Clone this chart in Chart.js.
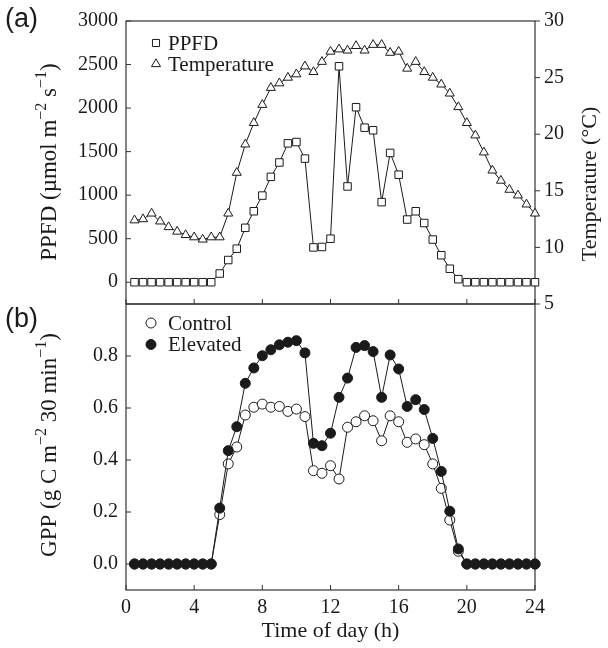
<!DOCTYPE html>
<html>
<head>
<meta charset="utf-8">
<script src="https://cdn.jsdelivr.net/npm/chart.js@4.4.1/dist/chart.umd.min.js"></script>
<style>
  html, body { margin: 0; padding: 0; background: #fff; }
  #wrap { position: relative; width: 608px; height: 648px; }
  #wrap canvas { position: absolute; left: 0; top: 0; }
</style>
</head>
<body>
<div id="wrap">
  <canvas id="chartA" width="608" height="648" style="width:608px;height:648px"></canvas>
  <canvas id="chartB" width="608" height="648" style="width:608px;height:648px"></canvas>
</div>
<script>
// half-hourly time stamps (h)
const hours = [0.5, 1, 1.5, 2, 2.5, 3, 3.5, 4, 4.5, 5, 5.5, 6, 6.5, 7, 7.5, 8, 8.5, 9, 9.5, 10, 10.5, 11, 11.5, 12,
  12.5, 13, 13.5, 14, 14.5, 15, 15.5, 16, 16.5, 17, 17.5, 18, 18.5, 19, 19.5, 20, 20.5, 21, 21.5, 22, 22.5, 23, 23.5, 24]

// panel (a)
const ppfd = [0, 0, 0, 0, 0, 0, 0, 0, 0, 0, 100, 255, 385, 625, 815, 995, 1210, 1375, 1595, 1610, 1420, 400, 405, 500,
  2480, 1100, 2010, 1775, 1745, 920, 1485, 1235, 720, 815, 680, 490, 310, 155, 35, 0, 0, 0, 0, 0, 0, 0, 0, 0]
const temperature = [12.4, 12.5, 13.0, 12.3, 11.8, 11.4, 11.1, 10.9, 10.7, 10.9, 10.9, 13.0, 16.6, 19.1, 21.0, 22.6,
  24.1, 24.5, 25.0, 25.3, 26.0, 25.5, 26.4, 27.3, 27.5, 27.4, 27.8, 27.4, 27.9, 27.9, 27.2, 27.3, 25.8, 26.4, 25.5,
  25.0, 24.4, 23.6, 22.4, 21.0, 19.9, 18.4, 16.8, 15.9, 15.1, 14.6, 13.8, 13.0]

// panel (b)
const gppControl = [0, 0, 0, 0, 0, 0, 0, 0, 0, 0, 0.19, 0.385, 0.45, 0.573, 0.603, 0.615, 0.603, 0.606, 0.587, 0.596,
  0.567, 0.359, 0.349, 0.378, 0.327, 0.526, 0.547, 0.570, 0.551, 0.474, 0.570, 0.547, 0.468, 0.481, 0.459, 0.385,
  0.291, 0.169, 0.049, 0, 0, 0, 0, 0, 0, 0, 0, 0]
const gppElevated = [0, 0, 0, 0, 0, 0, 0, 0, 0, 0, 0.215, 0.436, 0.528, 0.695, 0.754, 0.801, 0.824, 0.843, 0.853,
  0.859, 0.812, 0.464, 0.455, 0.503, 0.641, 0.715, 0.833, 0.840, 0.817, 0.641, 0.804, 0.750, 0.606, 0.632, 0.594,
  0.483, 0.356, 0.203, 0.058, 0, 0, 0, 0, 0, 0, 0, 0, 0]

const xTicks = [0, 4, 8, 12, 16, 20, 24]
const ppfdTicks = [0, 500, 1000, 1500, 2000, 2500, 3000]
const tempTicks = [5, 10, 15, 20, 25, 30]
const gppTicks = [0.0, 0.2, 0.4, 0.6, 0.8]

const SERIF = '"Liberation Serif", "Times New Roman", serif'
const INK = '#1a1a1a'

// plot box edges in page pixels
const LEFT = 126, RIGHT = 535, TOP_A = 20, MID = 304, BOTTOM_B = 590

function pts(ys) {
  return hours.map((h, i) => ({ x: h, y: ys[i] }))
}

function marker(ctx, style, x, y, r, fill) {
  ctx.beginPath()
  if (style === 'rect') {
    const s = r * Math.SQRT1_2
    ctx.rect(x - s, y - s, 2 * s, 2 * s)
  } else if (style === 'triangle') {
    const a = Math.sin(Math.PI / 3) * r
    ctx.moveTo(x, y - r)
    ctx.lineTo(x + a, y + r / 2)
    ctx.lineTo(x - a, y + r / 2)
    ctx.closePath()
  } else {
    ctx.arc(x, y, r, 0, Math.PI * 2)
  }
  ctx.fillStyle = fill
  ctx.fill()
  ctx.stroke()
}

// text with superscript parts, centred on (x, y), rotated by rot
function richText(ctx, parts, x, y, rot, size) {
  ctx.save()
  ctx.translate(x, y)
  ctx.rotate(rot)
  ctx.textBaseline = 'middle'
  ctx.textAlign = 'left'
  const big = size + 'px ' + SERIF
  const small = Math.round(size * 0.68) + 'px ' + SERIF
  let total = 0
  parts.forEach(p => {
    ctx.font = p.sup ? small : big
    total += ctx.measureText(p.t).width
  })
  let cx = -total / 2
  parts.forEach(p => {
    ctx.font = p.sup ? small : big
    ctx.fillText(p.t, cx, p.sup ? -size * 0.36 : 0)
    cx += ctx.measureText(p.t).width
  })
  ctx.restore()
}

// frame, inward/outward ticks, titles and in-plot legend
const decorPlugin = {
  id: 'decor',
  beforeDatasetsDraw(chart, args, opts) {
    const ctx = chart.ctx
    const a = chart.chartArea
    ctx.save()
    ctx.strokeStyle = '#333'
    ctx.lineWidth = 1.2
    ctx.strokeRect(a.left, a.top, a.right - a.left, a.bottom - a.top)
    ctx.lineWidth = 1
    opts.ticks.forEach(t => {
      const s = chart.scales[t.scale]
      t.values.forEach(v => {
        const p = s.getPixelForValue(v)
        ctx.beginPath()
        if (t.side === 'left') { ctx.moveTo(a.left, p); ctx.lineTo(a.left + 5, p) }
        if (t.side === 'right') { ctx.moveTo(a.right, p); ctx.lineTo(a.right + 5, p) }
        if (t.side === 'bottom') { ctx.moveTo(p, a.bottom); ctx.lineTo(p, a.bottom - 5) }
        ctx.stroke()
      })
    })
    ctx.restore()
  },
  afterDraw(chart, args, opts) {
    const ctx = chart.ctx
    ctx.save()
    ctx.fillStyle = INK
    opts.titles.forEach(t => richText(ctx, t.parts, t.x, t.y, -Math.PI / 2, t.size))

    ctx.font = '27px "Liberation Sans", Arial, sans-serif'
    ctx.textAlign = 'left'
    ctx.textBaseline = 'middle'
    ctx.fillText(opts.panel.text, opts.panel.x, opts.panel.y)

    ctx.font = '21px ' + SERIF
    ctx.strokeStyle = INK
    ctx.lineWidth = 1
    opts.legend.forEach(l => {
      marker(ctx, l.style, l.mx, l.y, l.r, l.fill)
      ctx.fillStyle = INK
      ctx.fillText(l.label, l.tx, l.y + 1)
    })
    ctx.restore()
  }
}

const tickFont = { family: SERIF, size: 20 }

function baseX(showLabels) {
  return {
    type: 'linear', min: 0, max: 24,
    grid: { display: false, drawTicks: false },
    border: { display: false },
    afterBuildTicks: s => { s.ticks = xTicks.map(v => ({ value: v })) },
    ticks: { display: showLabels, font: tickFont, color: INK, padding: 6, maxRotation: 0, callback: v => String(v) },
    title: {
      display: showLabels, text: 'Time of day (h)', color: INK,
      font: { family: SERIF, size: 22 }, padding: { top: 1 }
    },
    afterFit: s => { s.height = showLabels ? 648 - BOTTOM_B : 0 }
  }
}

function lineSet(label, data, axis, style, r, fill) {
  return {
    label, data: pts(data), yAxisID: axis,
    borderColor: INK, borderWidth: 1,
    pointStyle: style, pointRadius: r, pointHoverRadius: r,
    pointBackgroundColor: fill, pointBorderColor: INK, pointBorderWidth: 1,
    tension: 0, clip: false
  }
}

new Chart(document.getElementById('chartA'), {
  type: 'line',
  data: {
    datasets: [
      lineSet('PPFD', ppfd, 'y', 'rect', 5.3, '#fff'),
      lineSet('Temperature', temperature, 'y1', 'triangle', 5.2, '#fff')
    ]
  },
  options: {
    responsive: false,
    animation: false,
    layout: { padding: { top: TOP_A, bottom: 648 - MID, left: 0, right: 0 } },
    scales: {
      x: baseX(false),
      y: {
        position: 'left', min: -250, max: 3000,
        grid: { display: false, drawTicks: false }, border: { display: false },
        afterBuildTicks: s => { s.ticks = ppfdTicks.map(v => ({ value: v })) },
        ticks: { font: tickFont, color: INK, padding: 8, callback: v => String(v) },
        afterFit: s => { s.width = LEFT }
      },
      y1: {
        position: 'right', min: 5, max: 30,
        grid: { display: false, drawTicks: false }, border: { display: false },
        afterBuildTicks: s => { s.ticks = tempTicks.map(v => ({ value: v })) },
        ticks: { font: tickFont, color: INK, padding: 9, callback: v => String(v) },
        afterFit: s => { s.width = 608 - RIGHT }
      }
    },
    plugins: {
      legend: { display: false },
      tooltip: { enabled: false },
      decor: {
        ticks: [
          { scale: 'y', side: 'left', values: ppfdTicks },
          { scale: 'y1', side: 'right', values: tempTicks },
          { scale: 'x', side: 'bottom', values: xTicks }
        ],
        titles: [
          { x: 50, y: 162, size: 23, parts: [{ t: 'PPFD (µmol m' }, { t: '−2', sup: true }, { t: ' s' }, { t: '−1', sup: true }, { t: ')' }] },
          { x: 590, y: 184, size: 22, parts: [{ t: 'Temperature (°C)' }] }
        ],
        panel: { text: '(a)', x: 5, y: 20 },
        legend: [
          { style: 'rect', label: 'PPFD', mx: 156, tx: 168, y: 43, r: 5, fill: '#fff' },
          { style: 'triangle', label: 'Temperature', mx: 156, tx: 168, y: 64, r: 5.2, fill: '#fff' }
        ]
      }
    }
  },
  plugins: [decorPlugin]
})

new Chart(document.getElementById('chartB'), {
  type: 'line',
  data: {
    datasets: [
      lineSet('Elevated', gppElevated, 'y', 'circle', 5, INK),
      lineSet('Control', gppControl, 'y', 'circle', 5, '#fff')
    ]
  },
  options: {
    responsive: false,
    animation: false,
    layout: { padding: { top: MID, bottom: 0, left: 0, right: 608 - RIGHT } },
    scales: {
      x: baseX(true),
      y: {
        position: 'left', min: -0.1, max: 1.0,
        grid: { display: false, drawTicks: false }, border: { display: false },
        afterBuildTicks: s => { s.ticks = gppTicks.map(v => ({ value: v })) },
        ticks: { font: tickFont, color: INK, padding: 8, callback: v => v.toFixed(1) },
        afterFit: s => { s.width = LEFT }
      }
    },
    plugins: {
      legend: { display: false },
      tooltip: { enabled: false },
      decor: {
        ticks: [
          { scale: 'y', side: 'left', values: gppTicks },
          { scale: 'x', side: 'bottom', values: xTicks }
        ],
        titles: [
          { x: 50, y: 445, size: 23, parts: [{ t: 'GPP (g C m' }, { t: '−2', sup: true }, { t: ' 30 min' }, { t: '−1', sup: true }, { t: ')' }] }
        ],
        panel: { text: '(b)', x: 5, y: 320 },
        legend: [
          { style: 'circle', label: 'Control', mx: 151, tx: 168, y: 323, r: 5, fill: '#fff' },
          { style: 'circle', label: 'Elevated', mx: 151, tx: 168, y: 344.5, r: 5, fill: INK }
        ]
      }
    }
  },
  plugins: [decorPlugin]
})
</script>
</body>
</html>
